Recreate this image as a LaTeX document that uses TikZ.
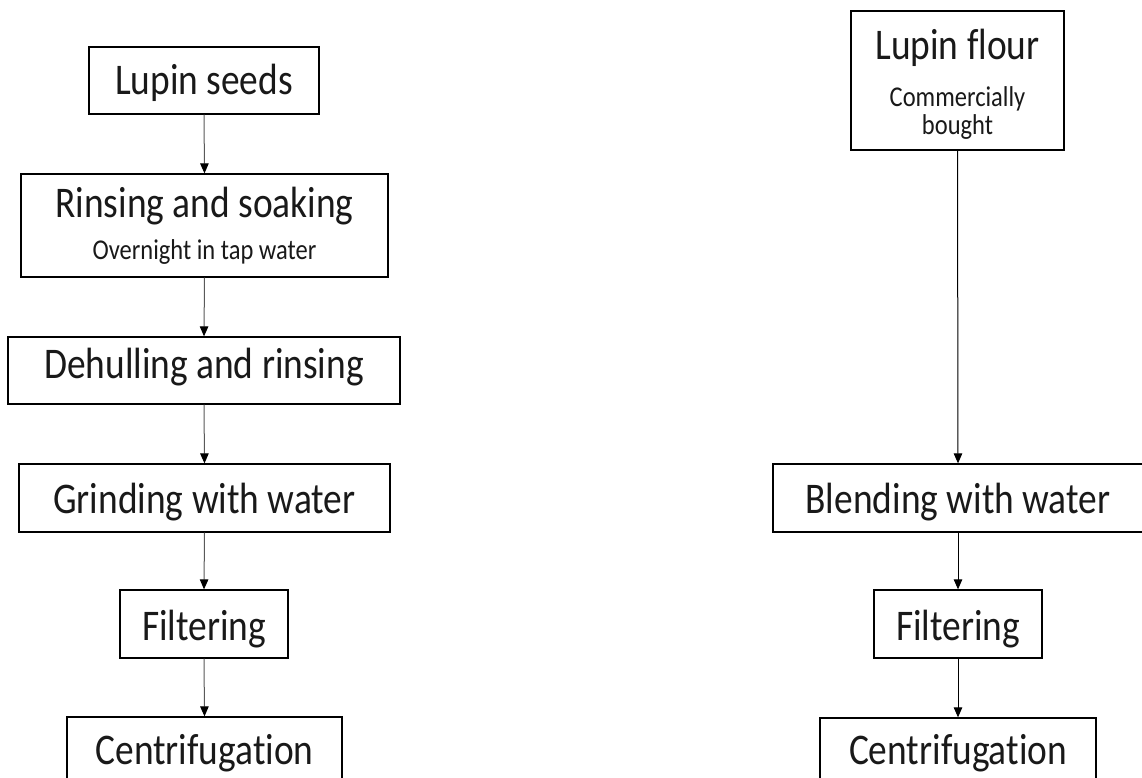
\documentclass[tikz,border=0pt]{standalone}
\usepackage{fontspec}
\usepackage{graphicx}
\setmainfont[Ligatures=NoCommon]{Carlito}
\usetikzlibrary{arrows.meta}
% text set a little taller than the font's natural proportions
\newcommand{\tallt}[1]{\scalebox{1}[1.17]{#1}}
\tikzset{
  stepbox/.style={draw=black, line width=1.3pt, inner sep=0pt},
  big/.style={anchor=base, inner sep=0pt, text=black!90, font=\fontsize{37.4}{40}\selectfont},
  small/.style={anchor=base, inner sep=0pt, text=black!90, font=\fontsize{24.5}{27}\selectfont},
  flow/.style={draw=black!65, line width=1pt, -{Triangle[length=10pt,width=8.5pt,color=black]}},
  flowdark/.style={flow, draw=black}
}
\begin{document}
\begin{tikzpicture}[x=1pt,y=-1pt]
\useasboundingbox (0,0) rectangle (1142,778);
\clip (0,0) rectangle (1142,778);
\fill[white] (0,0) rectangle (1142,778);

% left column: process from seeds
\node[stepbox, minimum width=230pt, minimum height=67pt] (seeds) at (204,80.5) {};
\node[big] (seedsT) at (204,95) {\tallt{Lupin seeds}};

\node[stepbox, minimum width=367pt, minimum height=103pt] (rinse) at (204.5,225.5) {};
\node[big] (rinseT) at (204.5,217) {\tallt{Rinsing and soaking}};
\node[small] (rinseS) at (204.5,259) {\tallt{Overnight in tap water}};

\node[stepbox, minimum width=392pt, minimum height=67pt] (dehull) at (204,370.5) {};
\node[big] (dehullT) at (204,378) {\tallt{Dehulling and rinsing}};

\node[stepbox, minimum width=371pt, minimum height=68pt] (grind) at (204.5,498) {};
\node[big] (grindT) at (204.5,513) {\tallt{Grinding with water}};

\node[stepbox, minimum width=168pt, minimum height=68pt] (filtL) at (204,624) {};
\node[big] (filtLT) at (204,640) {\tallt{Filtering}};

\node[stepbox, minimum width=275pt, minimum height=100pt] (centL) at (204.5,767) {};
\node[big] (centLT) at (204.5,764) {\tallt{Centrifugation}};

\draw[flow] (seeds.south) -- (rinse.north);
\draw[flow] (rinse.south) -- (dehull.north);
\draw[flow] (dehull.south) -- (grind.north);
\draw[flow] (grind.south) -- (filtL.north);
\draw[flow] (filtL.south) -- (centL.north);

% right column: process from flour
\node[stepbox, minimum width=213pt, minimum height=139pt] (flour) at (957.5,80.5) {};
\node[big] (flourT) at (957.5,60) {\tallt{Lupin flour}};
\node[small] (flourS1) at (957.5,107) {\tallt{Commercially}};
\node[small] (flourS2) at (957.5,135) {\tallt{bought}};

\node[stepbox, minimum width=370pt, minimum height=68pt] (blend) at (958,498) {};
\node[big] (blendT) at (958,513) {\tallt{Blending with water}};

\node[stepbox, minimum width=168pt, minimum height=68pt] (filtR) at (958,624) {};
\node[big] (filtRT) at (958,640) {\tallt{Filtering}};

\node[stepbox, minimum width=276pt, minimum height=100pt] (centR) at (958,768) {};
\node[big] (centRT) at (958,764) {\tallt{Centrifugation}};

\draw[flowdark] (flour.south) -- (blend.north);
\draw[flowdark] (blend.south) -- (filtR.north);
\draw[flowdark] (filtR.south) -- (centR.north);
\end{tikzpicture}
\end{document}
